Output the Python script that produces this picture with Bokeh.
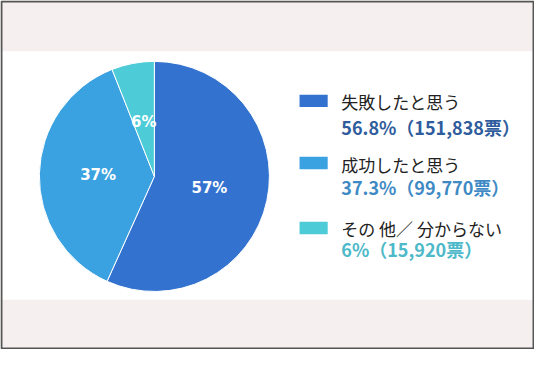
import numpy as np
from bokeh.plotting import figure
from bokeh.models import Range1d, ColumnDataSource
from bokeh.core.properties import value
from bokeh.embed import file_html
from bokeh.resources import INLINE

# ---- data ----
categories = ["失敗したと思う", "成功したと思う", "その 他／ 分からない"]
percents = [56.8, 37.3, 6.0]
votes = ["151,838", "99,770", "15,920"]
percent_text = ["56.8%", "37.3%", "6%"]
pie_labels = ["57%", "37%", "6%"]
colors = ["#3373CF", "#3BA2E2", "#4DCCD8"]
detail_colors = ["#2F5C9C", "#3F8AC4", "#4DB9C9"]

H = 365.0
def Y(y):  # reference pixel row -> data y (y up)
    return H - y

p = figure(width=534, height=349, output_backend="svg", toolbar_location=None,
           x_range=Range1d(0, 550), y_range=Range1d(0, 365),
           min_border=0, outline_line_color=None,
           background_fill_color="white", border_fill_color="white")
p.axis.visible = False
p.grid.visible = False

# pink bands
p.quad(left=[0, 0], right=[550, 550], top=[Y(0), Y(313)], bottom=[Y(53), Y(365)],
       fill_color="#F6EFEF", line_color=None)
# frame border
p.quad(left=[1], right=[549], top=[Y(1)], bottom=[Y(364)],
       fill_color=None, line_color="#555555", line_width=2)

# pie
cx, cy, R = 158.5, Y(184), 118.5
vals = np.array(percents)
frac = vals / vals.sum()
cum = np.concatenate([[0], np.cumsum(frac)])
start = np.pi / 2 - cum[1:] * 2 * np.pi
end = np.pi / 2 - cum[:-1] * 2 * np.pi
src = ColumnDataSource(dict(start=start, end=end, color=colors))
p.wedge(x=cx, y=cy, radius=R, start_angle="start", end_angle="end",
        fill_color="color", line_color="white", line_width=1, source=src)

mid = (start + end) / 2
lr = 58
lsrc = ColumnDataSource(dict(x=cx + lr * np.cos(mid), y=cy + lr * np.sin(mid), t=pie_labels))
p.text(x="x", y="y", text="t", source=lsrc, text_color="white",
       text_font=value("DejaVu Sans"), text_font_style="bold", text_font_size="15px",
       text_align="center", text_baseline="middle")

# legend
sq_y = [Y(105), Y(170), Y(238)]
l1_y = [Y(106), Y(172), Y(238)]
l2_y = [Y(132), Y(195), Y(260)]
p.rect(x=[322.5] * 3, y=sq_y, width=29, height=13, fill_color=colors, line_color=None)
t1 = ColumnDataSource(dict(x=[351] * 3, y=l1_y, t=categories))
p.text(x="x", y="y", text="t", source=t1, text_color="#222222",
       text_font=value("Noto Sans CJK JP"), text_font_size="17px",
       text_align="left", text_baseline="middle")
details = [f"{pt}（{v}票）" for pt, v in zip(percent_text, votes)]
t2 = ColumnDataSource(dict(x=[351] * 3, y=l2_y, t=details, c=detail_colors))
p.text(x="x", y="y", text="t", source=t2, text_color="c",
       text_font=value("Noto Sans CJK JP"), text_font_style="bold", text_font_size="18px",
       text_align="left", text_baseline="middle")

open("out.html", "w").write(file_html(p, INLINE))
